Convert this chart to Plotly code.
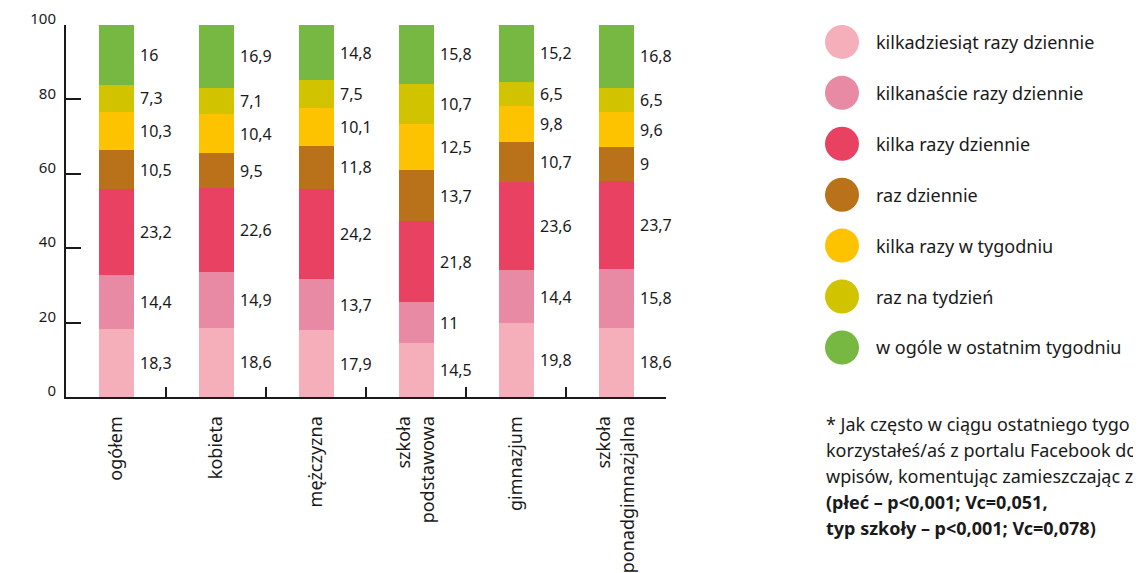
import plotly.graph_objects as go

categories = ["ogółem", "kobieta", "mężczyzna", "szkoła<br>podstawowa", "gimnazjum", "szkoła<br>ponadgimnazjalna"]
series_names = [
    "kilkadziesiąt razy dziennie",
    "kilkanaście razy dziennie",
    "kilka razy dziennie",
    "raz dziennie",
    "kilka razy w tygodniu",
    "raz na tydzień",
    "w ogóle w ostatnim tygodniu",
]
kilkadziesiat = [18.3, 18.6, 17.9, 14.5, 19.8, 18.6]
kilkanascie = [14.4, 14.9, 13.7, 11.0, 14.4, 15.8]
kilka_dziennie = [23.2, 22.6, 24.2, 21.8, 23.6, 23.7]
raz_dziennie = [10.5, 9.5, 11.8, 13.7, 10.7, 9.0]
kilka_tydzien = [10.3, 10.4, 10.1, 12.5, 9.8, 9.6]
raz_tydzien = [7.3, 7.1, 7.5, 10.7, 6.5, 6.5]
w_ogole = [16.0, 16.9, 14.8, 15.8, 15.2, 16.8]
series_values = [kilkadziesiat, kilkanascie, kilka_dziennie, raz_dziennie, kilka_tydzien, raz_tydzien, w_ogole]
colors = ["#F4AFBA", "#E88AA3", "#E84162", "#B9711A", "#FDC300", "#D1C300", "#77B843"]
y_ticks = [0, 20, 40, 60, 80, 100]

# footnote as visible in the reference (cut at the right edge of the image)
footnote_lines = [
    "* Jak często w ciągu ostatniego tygo",
    "korzystałeś/aś z portalu Facebook do",
    "wpisów, komentując zamieszczając z",
    "<b>(płeć – p<0,001; Vc=0,051,</b>",
    "<b>typ szkoły – p<0,001; Vc=0,078)</b>",
]

FONT = "Noto Sans"
OFF = 8  # page body margin
W, H = 1141 - OFF, 573 - OFF
ML, MR, MT = 66 - OFF, 0, 23 - OFF
PH = 374
MB = H - MT - PH
PW = W - ML - MR
TXT = "#1a1a1a"

fig = go.Figure()
for name, vals, col in zip(series_names, series_values, colors):
    fig.add_trace(go.Bar(x=categories, y=vals, name=name, marker=dict(color=col, line=dict(width=0)),
                         width=0.35, showlegend=False, hoverinfo="skip"))

annotations = []
for ci, cat in enumerate(categories):
    base = 0.0
    for vals in series_values:
        v = vals[ci]
        annotations.append(dict(x=cat, y=base + v / 2, xref="x", yref="y", text=f"{v:g}".replace(".", ","),
                                showarrow=False, xanchor="left", yanchor="middle", xshift=22,
                                font=dict(family=FONT, size=16, color=TXT)))
        base += v

# legend as marks on a hidden axis
legend_idx = list(range(len(series_names)))
X2_DOM = [0.57, 1.0]
leg_px = 842 - OFF
LEG_X = (leg_px - ML - X2_DOM[0] * PW) / ((X2_DOM[1] - X2_DOM[0]) * PW)
fig.add_trace(go.Scatter(x=[LEG_X] * len(series_names), y=legend_idx, xaxis="x2", yaxis="y2", mode="markers",
                         marker=dict(size=34, color=colors, line=dict(width=0)), showlegend=False, hoverinfo="skip"))
for i, name in enumerate(series_names):
    annotations.append(dict(x=LEG_X, y=i, xref="x2", yref="y2", text=name, showarrow=False, xanchor="left",
                            yanchor="middle", xshift=32, font=dict(family=FONT, size=18, color=TXT)))

row_gap = 51.2
top_row = 40 - OFF
y2_range = [(MT + PH - top_row) / row_gap, -(top_row - MT) / row_gap]

foot_y = [424, 450, 476, 503, 529]
for line, py in zip(footnote_lines, foot_y):
    annotations.append(dict(x=(824 - OFF - ML) / PW, y=(MT + PH - (py - OFF)) / PH, xref="paper", yref="paper",
                            text=line, showarrow=False, xanchor="left", yanchor="middle",
                            font=dict(family=FONT, size=18, color=TXT)))

fig.update_layout(
    width=W, height=H, autosize=False,
    margin=dict(l=ML, r=MR, t=MT, b=MB, pad=0),
    barmode="stack",
    plot_bgcolor="white", paper_bgcolor="white",
    font=dict(family=FONT, size=15, color=TXT),
    xaxis=dict(domain=[0, 600 / PW], type="category", categoryorder="array", categoryarray=categories,
               range=[-0.5, 5.5], showline=True, linecolor=TXT, linewidth=2,
               ticks="inside", ticklen=10, tickwidth=1.5, tickcolor=TXT, tickson="boundaries",
               tickangle=-90, tickfont=dict(family=FONT, size=18, color=TXT), ticklabelstandoff=10,
               showgrid=False, zeroline=False, fixedrange=True),
    yaxis=dict(range=[0, 100], tickvals=y_ticks, showline=True, linecolor=TXT, linewidth=2,
               ticks="inside", ticklen=15, tickwidth=1.5, tickcolor=TXT, showgrid=False, zeroline=False,
               ticklabelstandoff=5, ticklabelshift=-6, ticklabeloverflow="allow",
               tickfont=dict(family=FONT, size=15, color=TXT), fixedrange=True),
    xaxis2=dict(domain=X2_DOM, range=[0, 1], visible=False, anchor="y2", fixedrange=True),
    yaxis2=dict(domain=[0, 1], range=y2_range, visible=False, anchor="x2", fixedrange=True),
    annotations=annotations,
)

fig.write_html("out.html")
